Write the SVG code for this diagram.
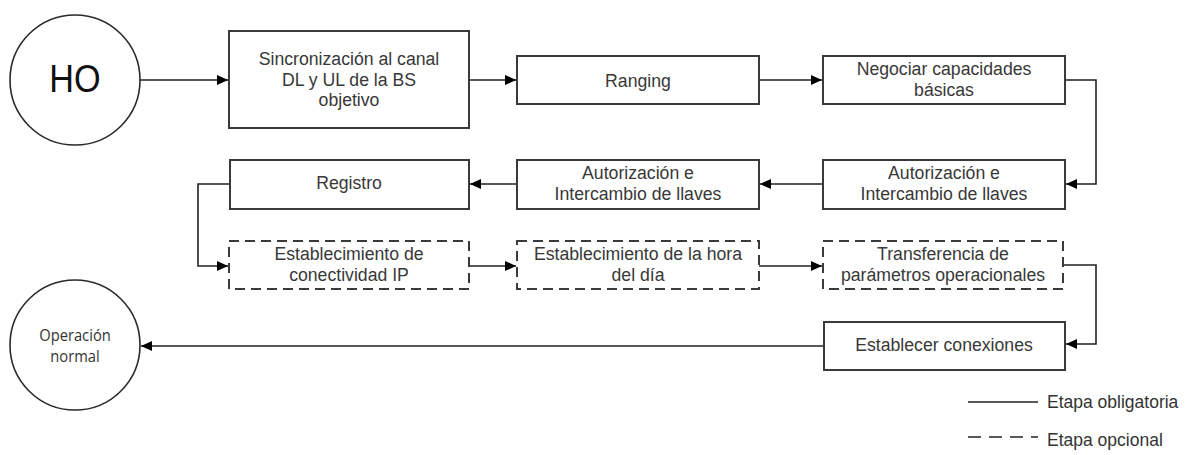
<svg xmlns="http://www.w3.org/2000/svg" width="1188" height="455" viewBox="0 0 1188 455">
<style>
  .box { fill: #fff; stroke: #3a3a3a; stroke-width: 2; }
  .opt { fill: #fff; stroke: #3a3a3a; stroke-width: 2; stroke-dasharray: 10 6; }
  .circ { fill: #fff; stroke: #2a2a2a; stroke-width: 1.6; }
  .t { font-family: "Liberation Sans", Arial, sans-serif; font-size: 19px; fill: #383838; text-anchor: middle; }
  .ho { font-family: "Liberation Sans", Arial, sans-serif; font-size: 38px; fill: #111; text-anchor: middle; }
  .op { font-family: "Open Sans", "Noto Sans", sans-serif; font-size: 16px; fill: #333; text-anchor: middle; }
  .lg { font-family: "Liberation Sans", Arial, sans-serif; font-size: 17.5px; fill: #333; }
  .c { fill: none; stroke: #222; stroke-width: 1.6; }
</style>
<defs>
  <marker id="arr" markerUnits="userSpaceOnUse" markerWidth="12" markerHeight="12" refX="11" refY="6" orient="auto">
    <path d="M0,1 L11,6 L0,11 z" fill="#000"/>
  </marker>
</defs>

<g id="connectors">
  <path class="c" d="M140,80 H228" marker-end="url(#arr)"/>
  <path class="c" d="M469,80 H516" marker-end="url(#arr)"/>
  <path class="c" d="M759,80 H822" marker-end="url(#arr)"/>
  <path class="c" d="M1065,80 H1096 V184 H1066" marker-end="url(#arr)"/>
  <path class="c" d="M823,184 H760" marker-end="url(#arr)"/>
  <path class="c" d="M517,184 H470" marker-end="url(#arr)"/>
  <path class="c" d="M230,184 H198 V266 H228" marker-end="url(#arr)"/>
  <path class="c" d="M469,266 H516" marker-end="url(#arr)"/>
  <path class="c" d="M759,266 H822" marker-end="url(#arr)"/>
  <path class="c" d="M1063,265 H1096 V344 H1066" marker-end="url(#arr)"/>
  <path class="c" d="M824,346 H141" marker-end="url(#arr)"/>
</g>

<g id="ho">
  <circle class="circ" cx="75" cy="80" r="65"/>
  <text class="ho" transform="translate(75,92) scale(0.9,1)" x="0" y="0">HO</text>
</g>

<g id="sincronizacion">
  <rect class="box" x="229" y="31" width="240" height="97"/>
  <text class="t" transform="translate(349,0) scale(0.93,1)"><tspan x="0" y="65">Sincronización al canal</tspan><tspan x="0" y="86">DL y UL de la BS</tspan><tspan x="0" y="106">objetivo</tspan></text>
</g>

<g id="ranging">
  <rect class="box" x="517" y="56" width="242" height="48"/>
  <text class="t" transform="translate(638,0) scale(0.93,1)"><tspan x="0" y="87">Ranging</tspan></text>
</g>

<g id="negociar">
  <rect class="box" x="823" y="56" width="242" height="48"/>
  <text class="t" transform="translate(944,0) scale(0.93,1)"><tspan x="0" y="75">Negociar capacidades</tspan><tspan x="0" y="96">básicas</tspan></text>
</g>

<g id="autorizacion2">
  <rect class="box" x="823" y="160" width="242" height="49"/>
  <text class="t" transform="translate(944,0) scale(0.93,1)"><tspan x="0" y="179">Autorización e</tspan><tspan x="0" y="200">Intercambio de llaves</tspan></text>
</g>

<g id="autorizacion1">
  <rect class="box" x="517" y="160" width="242" height="49"/>
  <text class="t" transform="translate(638,0) scale(0.93,1)"><tspan x="0" y="179">Autorización e</tspan><tspan x="0" y="200">Intercambio de llaves</tspan></text>
</g>

<g id="registro">
  <rect class="box" x="230" y="160" width="239" height="49"/>
  <text class="t" transform="translate(349,0) scale(0.93,1)"><tspan x="0" y="189">Registro</tspan></text>
</g>

<g id="conectividad">
  <rect class="opt" x="229" y="241" width="240" height="48"/>
  <text class="t" transform="translate(349,0) scale(0.93,1)"><tspan x="0" y="260">Establecimiento de</tspan><tspan x="0" y="281">conectividad IP</tspan></text>
</g>

<g id="hora">
  <rect class="opt" x="517" y="241" width="242" height="48"/>
  <text class="t" transform="translate(638,0) scale(0.93,1)"><tspan x="0" y="260">Establecimiento de la hora</tspan><tspan x="0" y="281">del día</tspan></text>
</g>

<g id="transferencia">
  <rect class="opt" x="823" y="241" width="240" height="48"/>
  <text class="t" transform="translate(943,0) scale(0.93,1)"><tspan x="0" y="260">Transferencia de</tspan><tspan x="0" y="281">parámetros operacionales</tspan></text>
</g>

<g id="establecer">
  <rect class="box" x="824" y="322" width="241" height="48"/>
  <text class="t" transform="translate(944,0) scale(0.93,1)"><tspan x="0" y="351">Establecer conexiones</tspan></text>
</g>

<g id="operacion">
  <circle class="circ" cx="75" cy="345" r="65"/>
  <text class="op" transform="translate(75,0) scale(0.92,1)"><tspan x="0" y="341">Operación</tspan><tspan x="0" y="362">normal</tspan></text>
</g>

<g id="legend">
  <line class="c" x1="968" y1="402" x2="1038" y2="402"/>
  <text class="lg" x="1047" y="408">Etapa obligatoria</text>
  <line class="c" x1="968" y1="437" x2="1038" y2="437" stroke-dasharray="13 8"/>
  <text class="lg" x="1047" y="446">Etapa opcional</text>
</g>
</svg>
